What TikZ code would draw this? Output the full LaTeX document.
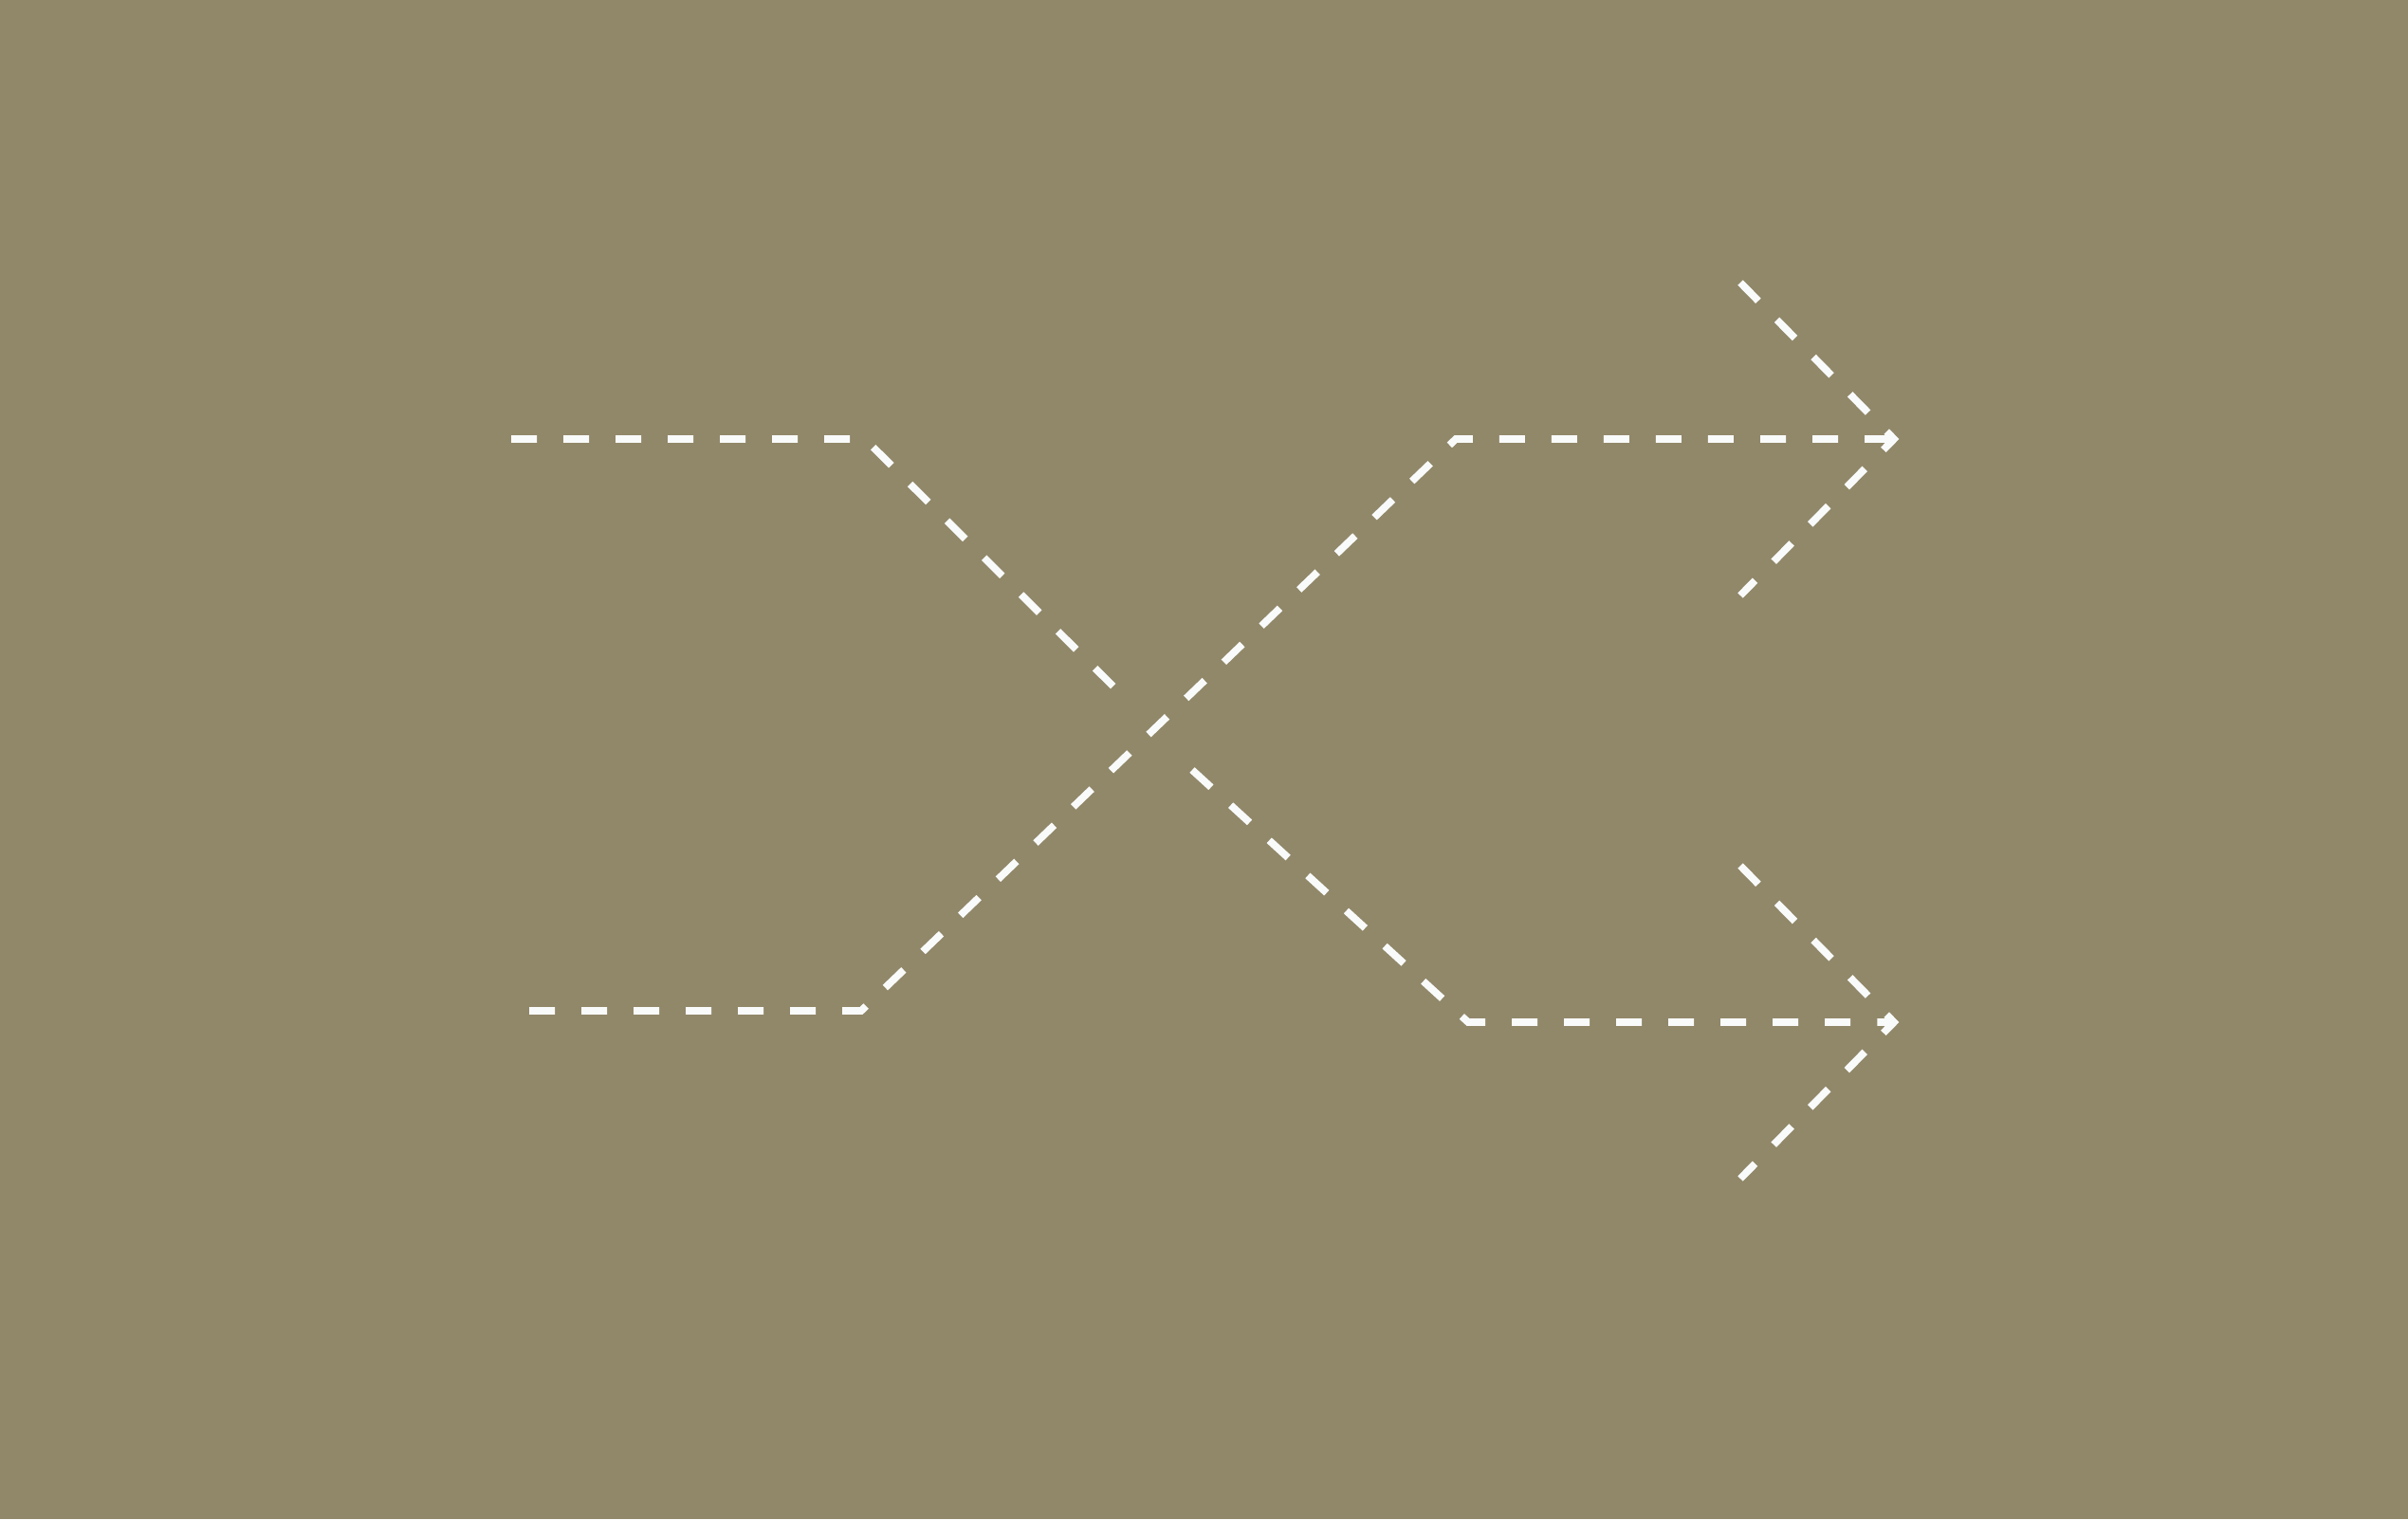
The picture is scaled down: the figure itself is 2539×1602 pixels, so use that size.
\documentclass[tikz,border=0pt]{standalone}
\definecolor{bgolive}{RGB}{145,136,106}
\definecolor{dashwhite}{RGB}{249,250,250}
\begin{document}
\begin{tikzpicture}[x=0.01cm, y=-0.01cm,
    trail/.style={draw=dashwhite, line width=0.077cm, dash pattern=on 0.27cm off 0.28cm}]
        % Background and frame
        \fill[bgolive] (0,0) rectangle (2539,1602);
        \useasboundingbox (0,0) rectangle (2539,1602);

        % Corners of the two paths
        \coordinate (upin) at (539,463);
        \coordinate (upbend) at (912,463);
        \coordinate (lowin) at (558,1066);
        \coordinate (lowbend) at (908,1066);
        \coordinate (uptip) at (1997,463);
        \coordinate (lowtip) at (1997,1078);

        % Upper path, broken where it crosses the other one
        \draw[trail] (upin) -- (upbend) -- (1175,725);
        \draw[trail] (1257,812) -- (1548,1078) -- (lowtip);

        % Lower path, going up to the right
        \draw[trail] (lowin) -- (lowbend) -- (1535,463) -- (uptip);

        % Arrow heads
        \draw[trail] (1835,298) -- (uptip) -- (1835,628);
        \draw[trail] (1835,913) -- (lowtip) -- (1835,1243);
\end{tikzpicture}
\end{document}
